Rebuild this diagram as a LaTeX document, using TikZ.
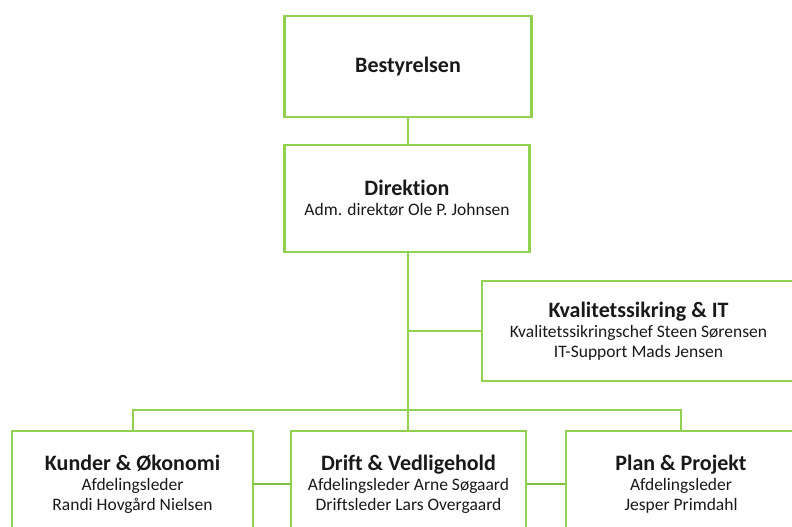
\documentclass[tikz,border=0pt]{standalone}
\usepackage{fontspec}
\setmainfont[Ligatures=NoCommon]{Carlito}
\definecolor{orggreen}{HTML}{92D050}
\definecolor{linkgreen}{HTML}{7CC23E}
\newcommand\boxtitle[1]{{\fontsize{22}{24}\selectfont\bfseries #1}}
\begin{document}
\begin{tikzpicture}[x=1pt,y=-1pt,
  box/.style={draw=orggreen, line width=2.7pt, fill=white, align=center, inner sep=0pt,
    font=\fontsize{17.5}{20}\selectfont, text=black!90},
  link/.style={draw=orggreen, line width=2pt},
  thinlink/.style={draw=linkgreen, line width=1.5pt}]
\useasboundingbox (0,0) rectangle (792,527);
\clip (0,0) rectangle (792,527);
\node[box, minimum width=247pt, minimum height=101pt] (best) at (408,66.5) {\boxtitle{Bestyrelsen}};
\node[box, minimum width=245pt, minimum height=107pt] (dir) at (407,198.5) {\boxtitle{Direktion}\\Adm. direktør Ole P. Johnsen};
\node[box, minimum width=313pt, minimum height=100pt] (kval) at (638.5,331) {\boxtitle{Kvalitetssikring \& IT}\\Kvalitetssikringschef Steen Sørensen\\IT-Support Mads Jensen};
\node[box, minimum width=241pt, minimum height=106pt] (kunder) at (132.5,484) {\boxtitle{Kunder \& Økonomi}\\Afdelingsleder\\Randi Hovgård Nielsen};
\node[box, minimum width=235pt, minimum height=106pt] (drift) at (408.5,484) {\boxtitle{Drift \& Vedligehold}\\Afdelingsleder Arne Søgaard\\Driftsleder Lars Overgaard};
\node[box, minimum width=230pt, minimum height=106pt] (plan) at (681,484) {\boxtitle{Plan \& Projekt}\\Afdelingsleder\\Jesper Primdahl};
\coordinate (bus) at (408,410);
\draw[link] (best.south) -- (best.south |- dir.north);
\draw[link] (bus |- dir.south) -- (bus);
\draw[link] (bus |- kval.west) -- (kval.west);
\draw[link] (kunder.north) -- (kunder.north |- bus) -- (plan.north |- bus) -- (plan.north);
\draw[link] (bus) -- (bus |- drift.north);
\draw[thinlink] (kunder.east) -- (drift.west);
\draw[thinlink] (drift.east) -- (plan.west);
\end{tikzpicture}
\end{document}
